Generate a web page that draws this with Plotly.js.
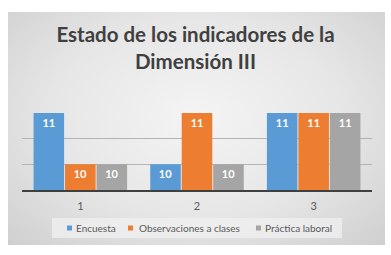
<!DOCTYPE html>
<html>
<head>
<meta charset="utf-8">
<script src="https://cdn.plot.ly/plotly-3.0.1.min.js"></script>
<style>
  html, body { margin: 0; padding: 0; background: #ffffff; }
  #wrap { position: relative; width: 391px; height: 255px; overflow: hidden; }
  #frame { position: absolute; left: 8px; top: 12px; width: 377px; height: 233px;
           background: radial-gradient(ellipse at 50% 45%, #f4f4f4 0%, #e6e6e6 55%, #cfcfcf 100%); }
  #chart { position: absolute; left: 0; top: 0; width: 391px; height: 255px; }
</style>
</head>
<body>
<div id="wrap"><div id="frame"></div><div id="chart"></div></div>
<script>
const categories = ["1", "2", "3"];
const seriesNames = ["Encuesta", "Observaciones a clases", "Práctica laboral"];
const encuesta = [11, 10, 11];
const observaciones = [10, 11, 11];
const practica = [10, 10, 11];
const seriesValues = [encuesta, observaciones, practica];
const colors = ["#5b9bd5", "#ed7d31", "#a5a5a5"];

const W = 391, H = 255;
const M = { l: 22, r: 19, t: 113, b: 65 };
const pw = W - M.l - M.r, ph = H - M.t - M.b;
const px2x = p => (p - M.l) / pw;
const py2y = p => (H - M.b - p) / ph;

const FONT = "Lato, 'Open Sans', sans-serif";

const traces = seriesValues.map((vals, i) => ({
  type: "bar",
  name: seriesNames[i],
  x: categories,
  y: vals,
  marker: { color: colors[i] },
  text: vals.map(String),
  textposition: "inside",
  insidetextanchor: "end",
  constraintext: "none",
  textfont: { color: "#ffffff", size: 11, family: FONT, weight: "bold" },
  hoverinfo: "none",
  showlegend: false
}));

// custom legend (Office style: small square + text)
const legendSquareX = [67, 128, 256];
const legendTextX = [74, 137, 263];
const legendY = 228;
const shapes = [{
  type: "rect", xref: "paper", yref: "paper",
  x0: px2x(52), x1: px2x(342), y0: py2y(238), y1: py2y(218),
  fillcolor: "rgba(240,240,240,0.75)", line: { width: 0 }, layer: "below"
}];
const annotations = [];
seriesNames.forEach((name, i) => {
  shapes.push({
    type: "rect", xref: "paper", yref: "paper",
    x0: px2x(legendSquareX[i]), x1: px2x(legendSquareX[i] + 5),
    y0: py2y(legendY + 2.5), y1: py2y(legendY - 2.5),
    fillcolor: colors[i], line: { width: 0 }
  });
  annotations.push({
    xref: "paper", yref: "paper",
    x: px2x(legendTextX[i]), y: py2y(legendY),
    xanchor: "left", yanchor: "middle",
    text: name, showarrow: false,
    font: { family: FONT, size: 10, color: "#595959" }
  });
});

const layout = {
  width: W, height: H,
  paper_bgcolor: "rgba(0,0,0,0)",
  plot_bgcolor: "rgba(0,0,0,0)",
  margin: { l: M.l, r: M.r, t: M.t, b: M.b, pad: 0 },
  barmode: "group",
  bargap: 0.19,
  bargroupgap: 0.03,
  title: {
    text: "Estado de los indicadores de la<br>Dimensión III",
    font: { family: FONT, size: 20.5, color: "#404040", weight: "bold" },
    x: 0.5, xanchor: "center", xref: "container",
    yref: "container", y: 1 - 42/255, yanchor: "top"
  },
  xaxis: {
    type: "category",
    showgrid: false,
    showline: true, linecolor: "#404040", linewidth: 1.5,
    ticks: "outside", ticklen: 5, tickcolor: "rgba(0,0,0,0)",
    tickfont: { family: FONT, size: 11, color: "#595959" },
    fixedrange: true
  },
  yaxis: {
    range: [9.5, 11],
    dtick: 0.5,
    showticklabels: false,
    showgrid: true, gridcolor: "#b3b3b3", gridwidth: 1,
    zeroline: false,
    fixedrange: true
  },
  shapes: shapes,
  annotations: annotations,
  showlegend: false
};

Plotly.newPlot("chart", traces, layout, { displayModeBar: false, staticPlot: true });
</script>
</body>
</html>
